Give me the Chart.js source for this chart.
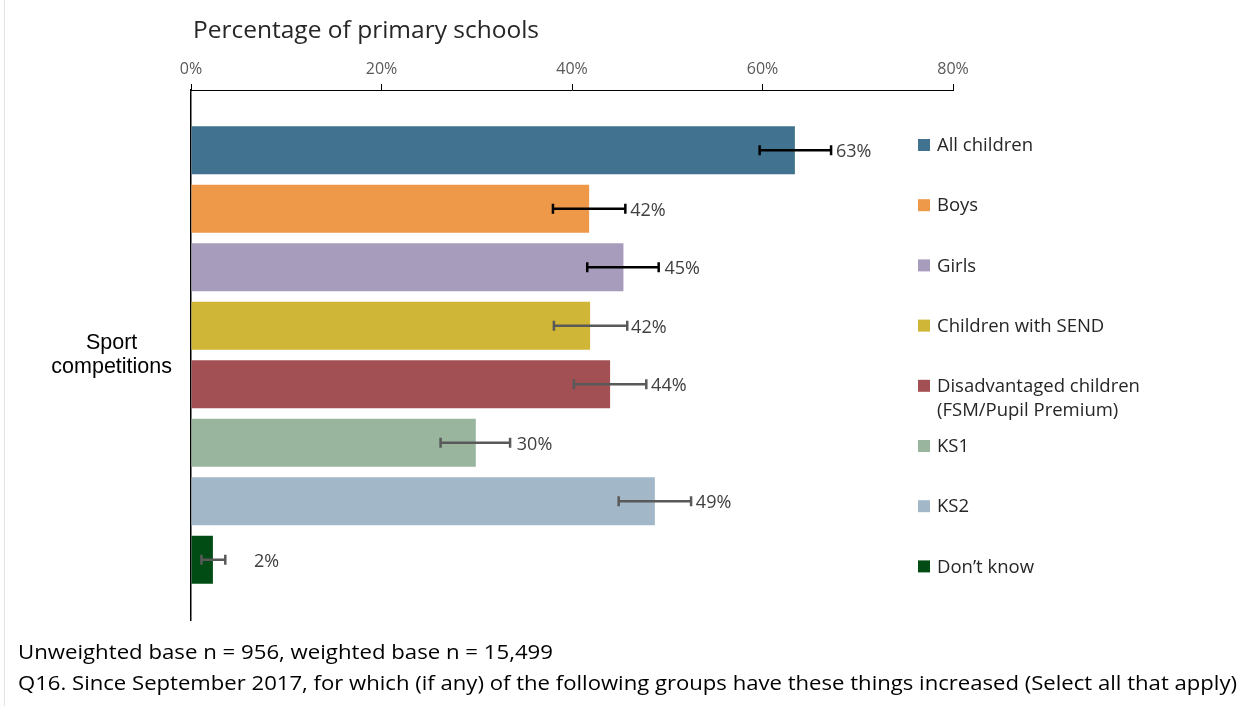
<!DOCTYPE html>
<html>
<head>
<meta charset="utf-8">
<script src="https://cdn.jsdelivr.net/npm/chart.js@4"></script>
<style>
  body { margin: 0; background: #fff; }
  #wrap { position: relative; width: 1243px; height: 706px; }
  #wrap::before { content: ""; position: absolute; left: 4px; top: 0; bottom: 0; border-left: 1px solid #e3e3e3; }
</style>
</head>
<body>
<div id="wrap"><canvas id="chart"></canvas></div>
<script>
// categories on the y axis (only one question here)
const categories = ["Sport competitions"];
// groups = one dataset each
const groups = ["All children", "Boys", "Girls", "Children with SEND",
  "Disadvantaged children (FSM/Pupil Premium)", "KS1", "KS2", "Don’t know"];
const values  = [63.4, 41.8, 45.4, 41.9, 44.0, 29.9, 48.7, 2.3];
const errLow  = [59.7, 38.0, 41.6, 38.1, 40.2, 26.2, 44.9, 1.1];
const errHigh = [67.2, 45.6, 49.1, 45.8, 47.8, 33.5, 52.5, 3.6];
const barColors = ["#41728f", "#ee984a", "#a79cbc", "#cfb636", "#a25053", "#9ab59e", "#a2b8c8", "#014b14"];
const errColors = ["#000000", "#000000", "#000000", "#595959", "#595959", "#595959", "#595959", "#595959"];
const xTicks = [0, 20, 40, 60, 80];

const titleText = "Percentage of primary schools";
const footnotes = [
  "Unweighted base n = 956, weighted base n = 15,499",
  "Q16. Since September 2017, for which (if any) of the following groups have these things increased (Select all that apply)"
];

// error bars + value labels
const errorBars = {
  id: "errorBars",
  afterDatasetsDraw(chart) {
    const ctx = chart.ctx;
    const x = chart.scales.x;
    ctx.save();
    chart.data.datasets.forEach((ds, i) => {
      const bar = chart.getDatasetMeta(i).data[0];
      const y = bar.y;
      const x1 = x.getPixelForValue(errLow[i]);
      const x2 = x.getPixelForValue(errHigh[i]);
      ctx.strokeStyle = errColors[i];
      ctx.lineWidth = 2.5;
      ctx.beginPath();
      ctx.moveTo(x1, y); ctx.lineTo(x2, y);
      ctx.moveTo(x1, y - 5); ctx.lineTo(x1, y + 5);
      ctx.moveTo(x2, y - 5); ctx.lineTo(x2, y + 5);
      ctx.stroke();
      // label sits a fixed gap after the bar end
      ctx.fillStyle = "#404040";
      ctx.font = "18px 'Open Sans'";
      ctx.textAlign = "left";
      ctx.textBaseline = "middle";
      ctx.fillText(Math.round(values[i]) + "%", bar.x + 41, y + 2);
    });
    ctx.restore();
  }
};

// draw text stretched to a target width
function fitText(ctx, txt, x, y, w) {
  const nat = ctx.measureText(txt).width;
  ctx.save();
  ctx.translate(x, y);
  ctx.scale(w / nat, 1);
  ctx.fillText(txt, 0, 0);
  ctx.restore();
}

// title, legend on the right, footnotes
const extras = {
  id: "extras",
  afterDraw(chart) {
    const ctx = chart.ctx;
    const area = chart.chartArea;
    ctx.save();
    ctx.fillStyle = "#262626";
    ctx.font = "24.5px 'Open Sans'";
    ctx.textBaseline = "middle";
    ctx.textAlign = "left";
    ctx.fillText(titleText, area.left + 2, 31);

    // legend
    ctx.font = "18.5px 'Open Sans'";
    let ly = 146;
    groups.forEach((g, i) => {
      ctx.fillStyle = barColors[i];
      ctx.fillRect(918, ly - 7, 12, 12);
      ctx.fillStyle = "#262626";
      const words = g.split(" ");
      const lines = [];
      let cur = "";
      words.forEach(w => {
        const t = cur ? cur + " " + w : w;
        if (ctx.measureText(t).width > 230 && cur) { lines.push(cur); cur = w; } else cur = t;
      });
      lines.push(cur);
      lines.forEach((l, k) => ctx.fillText(l, 937, ly + k * 24));
      ly += 60.2;
    });

    // footnotes
    ctx.fillStyle = "#000";
    ctx.font = "20px 'Open Sans'";
    fitText(ctx, footnotes[0], 18, 653, 535);
    fitText(ctx, footnotes[1], 18, 684, 1219);
    ctx.restore();
  }
};

new Chart(document.getElementById("chart"), {
  type: "bar",
  data: {
    labels: categories,
    datasets: groups.map((g, i) => ({
      label: g,
      data: [values[i]],
      backgroundColor: barColors[i],
      categoryPercentage: 0.883,
      barPercentage: 0.82
    }))
  },
  options: {
    indexAxis: "y",
    responsive: true,
    maintainAspectRatio: false,
    animation: false,
    layout: { padding: { top: 0, left: 0, right: 290, bottom: 86 } },
    plugins: { legend: { display: false }, tooltip: { enabled: false } },
    scales: {
      x: {
        position: "top",
        min: 0,
        max: 80,
        afterBuildTicks: s => { s.ticks = xTicks.map(v => ({ value: v })); },
        afterFit: s => { s.height = 90; },
        ticks: {
          callback: v => v + "%",
          color: "#595959",
          font: { family: "'Open Sans'", size: 16 },
          padding: 5
        },
        grid: { drawOnChartArea: false, drawTicks: true, tickLength: 6, color: "#000" },
        border: { color: "#000", width: 1 }
      },
      y: {
        afterFit: s => { s.width = 191; },
        ticks: {
          callback: function (v) { return this.getLabelForValue(v).split(" "); },
          color: "#000",
          crossAlign: "center",
          font: { family: "'Liberation Sans'", size: 21.5, lineHeight: 1.08 },
          padding: 11
        },
        grid: { display: false },
        border: { color: "#000", width: 1.5 }
      }
    }
  },
  plugins: [errorBars, extras]
});
</script>
</body>
</html>
